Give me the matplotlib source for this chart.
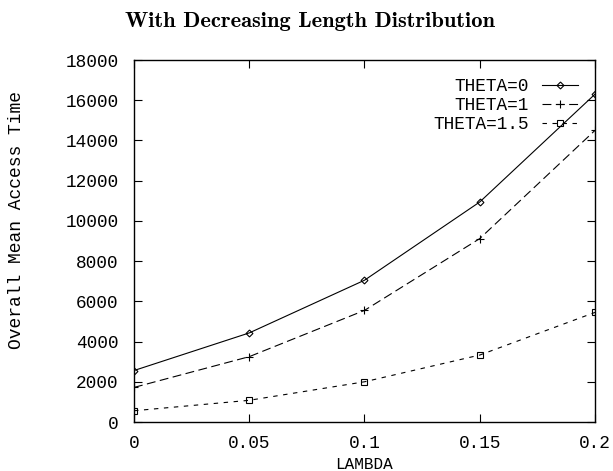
import matplotlib.pyplot as plt

lam = [0, 0.05, 0.1, 0.15, 0.2]
theta0 = [2560, 4430, 7050, 10940, 16300]
theta1 = [1720, 3250, 5550, 9120, 14500]
theta15 = [560, 1080, 2000, 3330, 5450]
labels = ['THETA=0', 'THETA=1', 'THETA=1.5']

mono = 'Liberation Mono'

fig = plt.figure(figsize=(6.13, 4.71), dpi=100)
ax = fig.add_axes([0.2186, 0.104, 0.7520, 0.7686])

ax.plot(lam, theta0, color='black', lw=0.8, marker='D', ms=3.5,
        mfc='none', mec='black', mew=0.8, label=labels[0])
ax.plot(lam, theta1, color='black', lw=0.8, ls=(0, (8, 4)), marker='+', ms=6,
        mew=0.8, label=labels[1])
ax.plot(lam, theta15, color='black', lw=0.8, ls=(0, (4, 5)), marker='s', ms=5,
        mfc='none', mec='black', mew=0.8, label=labels[2])

ax.set_xlim(0, 0.2)
ax.set_ylim(0, 18000)
ax.set_xticks(lam)
ax.set_xticklabels(['0', '0.05', '0.1', '0.15', '0.2'])
ax.set_yticks(range(0, 18001, 2000))
ax.tick_params(direction='in', length=6, width=0.8, top=True, right=True,
               labelsize=12.8)
ax.tick_params(axis='y', pad=11)
ax.tick_params(axis='x', pad=9)
for t in ax.get_xticklabels() + ax.get_yticklabels():
    t.set_fontfamily(mono)
for s in ax.spines.values():
    s.set_linewidth(1.0)

ax.set_xlabel('LAMBDA', fontfamily=mono, fontsize=11.5, labelpad=4)
ax.set_ylabel('Overall Mean Access Time', fontfamily=mono, fontsize=13)
ax.yaxis.set_label_coords(-0.236, 0.558)
fig.suptitle('With Decreasing Length Distribution', fontfamily='cmb10',
             fontsize=16.2, x=0.505, y=0.955, va='center')

ax.legend(loc='upper right', frameon=False, markerfirst=False, numpoints=1,
          handlelength=2.0, handletextpad=0.75, labelspacing=0.12,
          borderaxespad=0, borderpad=0, bbox_to_anchor=(0.963, 0.951),
          prop={'family': mono, 'size': 12.8})

fig.savefig('out.png', dpi=100)
